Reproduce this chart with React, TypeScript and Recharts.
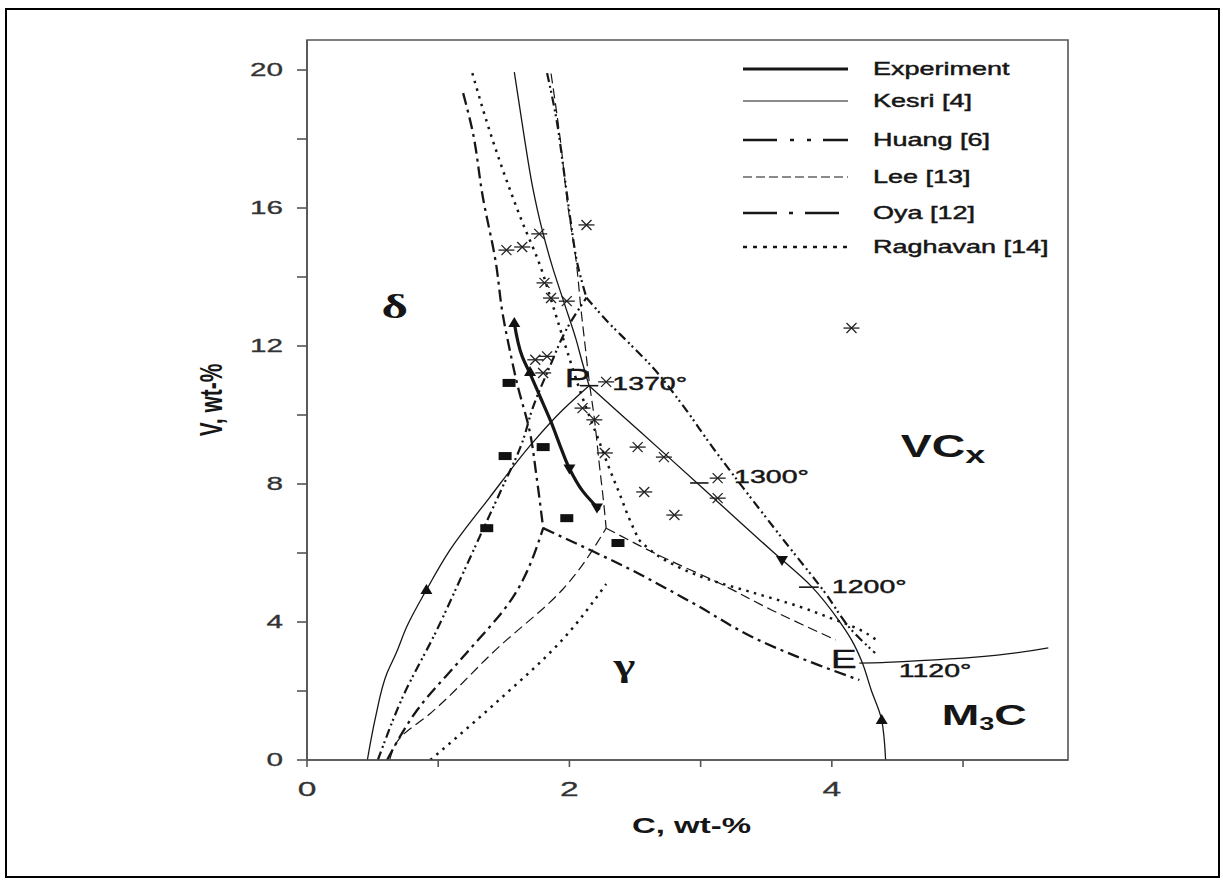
import React from 'react';
import { ComposedChart, Line, Scatter, XAxis, YAxis, Legend, ReferenceArea } from 'recharts';

type Pt = { x: number; y: number };

// ---------- axes ----------
const xDomain: [number, number] = [0, 5.8];
const yDomain: [number, number] = [0, 20.87];
const xTicks = [0, 1, 2, 3, 4, 5];
const xTickLabels = [0, 2, 4];
const yTicks = [0, 2, 4, 6, 8, 10, 12, 14, 16, 18, 20];
const yTickLabels = [0, 4, 8, 12, 16, 20];
const xAxisTitle = 'C, wt-%';
const yAxisTitle = 'V, wt-%';

// ---------- experiment ----------
const experiment: Pt[] = [
  { x: 1.58, y: 12.67 }, { x: 1.64, y: 11.7 }, { x: 1.7, y: 11.2 }, { x: 1.78, y: 10.5 },
  { x: 1.86, y: 9.8 }, { x: 1.93, y: 9.1 }, { x: 2.0, y: 8.45 }, { x: 2.1, y: 7.8 }, { x: 2.23, y: 7.25 },
];
const expDeltaGamma: Pt[] = [
  { x: 0.46, y: 0 }, { x: 0.52, y: 1.2 }, { x: 0.61, y: 2.52 }, { x: 0.68, y: 3.1 }, { x: 0.76, y: 3.86 },
  { x: 0.91, y: 4.93 }, { x: 1.09, y: 6.09 }, { x: 1.39, y: 7.6 }, { x: 1.72, y: 9.2 }, { x: 1.95, y: 10.15 },
  { x: 2.15, y: 10.85 },
];
const expGammaVC: Pt[] = [
  { x: 2.15, y: 10.85 }, { x: 2.38, y: 10.06 }, { x: 2.74, y: 8.83 }, { x: 3.14, y: 7.45 }, { x: 3.54, y: 6.07 },
  { x: 3.85, y: 5.01 }, { x: 4.05, y: 4.06 }, { x: 4.15, y: 3.48 }, { x: 4.23, y: 2.84 }, { x: 4.3, y: 2.03 },
  { x: 4.38, y: 1.16 }, { x: 4.41, y: 0 },
];
const expM3CVC: Pt[] = [{ x: 4.21, y: 2.81 }, { x: 4.41, y: 2.83 }, { x: 5.65, y: 3.25 }];
const tick1370: Pt[] = [{ x: 2.08, y: 10.85 }, { x: 2.22, y: 10.85 }];
const tick1300: Pt[] = [{ x: 2.92, y: 8.03 }, { x: 3.06, y: 8.03 }];
const tick1200: Pt[] = [{ x: 3.75, y: 5.01 }, { x: 3.9, y: 5.01 }];

const arrowsUp: Pt[] = [{ x: 1.58, y: 12.67 }, { x: 1.7, y: 11.25 }, { x: 0.91, y: 4.93 }, { x: 4.38, y: 1.16 }];
const arrowsDown: Pt[] = [{ x: 2.0, y: 8.45 }, { x: 2.21, y: 7.32 }, { x: 3.62, y: 5.8 }];

const asterisks: Pt[] = [
  { x: 2.13, y: 15.51 }, { x: 1.77, y: 15.25 }, { x: 1.64, y: 14.87 }, { x: 1.52, y: 14.78 },
  { x: 1.81, y: 13.83 }, { x: 1.86, y: 13.39 }, { x: 1.98, y: 13.3 }, { x: 1.74, y: 11.6 },
  { x: 1.83, y: 11.7 }, { x: 1.8, y: 11.22 }, { x: 2.28, y: 10.96 }, { x: 2.1, y: 10.2 },
  { x: 2.19, y: 9.86 }, { x: 2.27, y: 8.9 }, { x: 2.52, y: 9.07 }, { x: 2.72, y: 8.78 },
  { x: 2.57, y: 7.77 }, { x: 2.8, y: 7.1 }, { x: 3.13, y: 8.17 }, { x: 3.13, y: 7.59 }, { x: 4.15, y: 12.52 },
];
const squares: Pt[] = [
  { x: 1.54, y: 10.93 }, { x: 1.51, y: 8.81 }, { x: 1.8, y: 9.07 }, { x: 1.37, y: 6.72 },
  { x: 1.98, y: 7.01 }, { x: 2.37, y: 6.29 },
];

// ---------- Kesri [4] ----------
const kesriDeltaVC: Pt[] = [
  { x: 1.58, y: 19.94 }, { x: 1.65, y: 18.2 }, { x: 1.72, y: 16.6 }, { x: 1.79, y: 15.4 }, { x: 1.87, y: 14.3 },
  { x: 1.96, y: 13.25 }, { x: 2.05, y: 12.2 }, { x: 2.1, y: 11.5 }, { x: 2.15, y: 10.85 },
];

// ---------- Huang [6] ----------
const huangDeltaVC: Pt[] = [
  { x: 1.83, y: 19.91 }, { x: 1.9, y: 18.6 }, { x: 1.96, y: 17.0 }, { x: 2.01, y: 15.6 }, { x: 2.06, y: 14.4 }, { x: 2.13, y: 13.4 },
];
const huangGammaVC: Pt[] = [
  { x: 2.13, y: 13.4 }, { x: 2.3, y: 12.67 }, { x: 2.45, y: 12.1 }, { x: 2.63, y: 11.4 }, { x: 2.86, y: 10.3 },
  { x: 3.09, y: 9.07 }, { x: 3.32, y: 7.91 }, { x: 3.65, y: 6.29 }, { x: 3.95, y: 4.84 }, { x: 4.15, y: 3.77 }, { x: 4.33, y: 3.1 },
];
const huangDeltaGamma: Pt[] = [
  { x: 0.54, y: 0 }, { x: 0.73, y: 1.83 }, { x: 0.99, y: 3.77 }, { x: 1.19, y: 5.42 }, { x: 1.34, y: 6.67 },
  { x: 1.49, y: 7.91 }, { x: 1.64, y: 9.2 }, { x: 1.72, y: 10.2 }, { x: 1.85, y: 11.4 }, { x: 1.98, y: 12.5 }, { x: 2.13, y: 13.4 },
];

// ---------- Lee [13] ----------
const leeDeltaVC: Pt[] = [
  { x: 1.86, y: 19.9 }, { x: 1.93, y: 18.0 }, { x: 1.99, y: 16.0 }, { x: 2.05, y: 14.5 }, { x: 2.09, y: 13.0 },
  { x: 2.12, y: 12.0 }, { x: 2.15, y: 11.0 }, { x: 2.19, y: 9.9 }, { x: 2.23, y: 8.5 }, { x: 2.26, y: 7.5 }, { x: 2.28, y: 6.72 },
];
const leeDeltaGamma: Pt[] = [
  { x: 0.63, y: 0 }, { x: 0.7, y: 0.6 }, { x: 0.94, y: 1.35 }, { x: 1.44, y: 3.2 }, { x: 1.95, y: 4.95 }, { x: 2.28, y: 6.72 },
];
const leeGammaVC: Pt[] = [
  { x: 2.28, y: 6.72 }, { x: 2.7, y: 5.9 }, { x: 3.14, y: 5.13 }, { x: 3.54, y: 4.35 }, { x: 4.03, y: 3.48 },
];

// ---------- Oya [12] ----------
const oyaDeltaVC: Pt[] = [
  { x: 1.19, y: 19.33 }, { x: 1.26, y: 18.26 }, { x: 1.34, y: 16.32 }, { x: 1.44, y: 14.4 }, { x: 1.49, y: 12.96 },
  { x: 1.55, y: 11.8 }, { x: 1.6, y: 10.93 }, { x: 1.7, y: 9.48 }, { x: 1.75, y: 8.2 }, { x: 1.8, y: 6.72 },
];
const oyaDeltaGamma: Pt[] = [
  { x: 0.61, y: 0 }, { x: 0.84, y: 1.45 }, { x: 1.19, y: 2.99 }, { x: 1.57, y: 4.72 }, { x: 1.8, y: 6.72 },
];
const oyaGammaVC: Pt[] = [
  { x: 1.8, y: 6.72 }, { x: 2.15, y: 6.1 }, { x: 2.43, y: 5.59 }, { x: 2.94, y: 4.55 }, { x: 3.44, y: 3.48 },
  { x: 3.9, y: 2.75 }, { x: 4.21, y: 2.32 },
];

// ---------- Raghavan [14] ----------
const raghDeltaVC: Pt[] = [
  { x: 1.26, y: 19.91 }, { x: 1.39, y: 18.26 }, { x: 1.52, y: 16.81 }, { x: 1.64, y: 15.6 }, { x: 1.77, y: 14.4 },
  { x: 1.88, y: 13.1 }, { x: 1.97, y: 12.0 }, { x: 2.1, y: 10.5 }, { x: 2.22, y: 9.3 }, { x: 2.3, y: 8.49 },
  { x: 2.38, y: 7.74 }, { x: 2.46, y: 6.96 }, { x: 2.53, y: 6.38 },
];
const raghGammaVC: Pt[] = [
  { x: 2.53, y: 6.38 }, { x: 2.75, y: 5.75 }, { x: 3.05, y: 5.25 }, { x: 3.4, y: 4.85 }, { x: 3.75, y: 4.45 },
  { x: 4.0, y: 4.1 }, { x: 4.2, y: 3.8 }, { x: 4.35, y: 3.45 },
];
const raghDeltaGamma: Pt[] = [
  { x: 0.94, y: 0 }, { x: 1.44, y: 1.66 }, { x: 1.95, y: 3.5 }, { x: 2.28, y: 5.1 },
];

// ---------- text annotations (data coordinates) ----------
const annotations = [
  { x: 0.669, y: 12.81, text: 'δ', kind: 'greek' },
  { x: 2.418, y: 2.43, text: 'γ', kind: 'greek' },
  { x: 1.962, y: 10.81, text: 'P', kind: 'point' },
  { x: 3.992, y: 2.67, text: 'E', kind: 'point' },
  { x: 2.327, y: 10.72, text: '1370°', kind: 'temp' },
  { x: 3.255, y: 8.03, text: '1300°', kind: 'temp' },
  { x: 4.0, y: 4.84, text: '1200°', kind: 'temp' },
  { x: 4.51, y: 2.41, text: '1120°', kind: 'temp' },
  { x: 4.525, y: 8.78, text: 'VC|x', kind: 'phase' },
  { x: 4.837, y: 1.01, text: 'M|3|C', kind: 'phase' },
];

const legendLabels = ['Experiment', 'Kesri [4]', 'Huang [6]', 'Lee [13]', 'Oya [12]', 'Raghavan [14]'];

// ---------- styles ----------
const SANS = "'Liberation Sans', Arial, Helvetica, sans-serif";
const SERIF = "'Liberation Serif', 'Times New Roman', serif";
const SX = 1.5;
const INK = '#161616';
const HALO = 0.45;

const styleExp = { w: 3.2, dash: undefined as string | undefined };
const styleThin = { w: 1.3, dash: undefined as string | undefined };
const styleHuang = { w: 2.2, dash: '9 4 2 3 2 4' };
const styleLee = { w: 1.2, dash: '10 5' };
const styleOya = { w: 2.3, dash: '12 5 3 5' };
const styleRagh = { w: 2.5, dash: '2.5 5.5' };
const styleTick = { w: 1.6, dash: undefined as string | undefined };

const series = [
  { id: 'kesri', data: kesriDeltaVC, s: styleThin },
  { id: 'expDG', data: expDeltaGamma, s: styleThin },
  { id: 'expGV', data: expGammaVC, s: styleThin },
  { id: 'expMV', data: expM3CVC, s: styleThin },
  { id: 'huangDV', data: huangDeltaVC, s: styleHuang },
  { id: 'huangGV', data: huangGammaVC, s: styleHuang },
  { id: 'huangDG', data: huangDeltaGamma, s: styleHuang },
  { id: 'leeDV', data: leeDeltaVC, s: styleLee },
  { id: 'leeDG', data: leeDeltaGamma, s: styleLee },
  { id: 'leeGV', data: leeGammaVC, s: styleLee },
  { id: 'oyaDV', data: oyaDeltaVC, s: styleOya },
  { id: 'oyaDG', data: oyaDeltaGamma, s: styleOya },
  { id: 'oyaGV', data: oyaGammaVC, s: styleOya },
  { id: 'raghDV', data: raghDeltaVC, s: styleRagh },
  { id: 'raghGV', data: raghGammaVC, s: styleRagh },
  { id: 'raghDG', data: raghDeltaGamma, s: styleRagh },
  { id: 't1370', data: tick1370, s: styleTick },
  { id: 't1300', data: tick1300, s: styleTick },
  { id: 't1200', data: tick1200, s: styleTick },
  { id: 'exp', data: experiment, s: styleExp },
];

const legendStyles = [
  { w: 3, dash: undefined as string | undefined },
  { w: 1.2, dash: undefined as string | undefined },
  { w: 2.6, dash: '34 13 4 13 4 12' },
  { w: 1.1, dash: '9 4' },
  { w: 2.6, dash: '34 12 4 12' },
  { w: 2.6, dash: '4 6' },
];
const legendRowY = [19, 51, 90, 127, 163, 197];

// ---------- shapes ----------
const Asterisk = (p: any) => {
  const { cx, cy } = p;
  if (cx == null || cy == null) return <g />;
  return (
    <g stroke="#222" strokeWidth={1.3}>
      <line x1={cx - 8} y1={cy} x2={cx + 8} y2={cy} />
      <line x1={cx - 5} y1={cy - 5} x2={cx + 5} y2={cy + 5} />
      <line x1={cx - 5} y1={cy + 5} x2={cx + 5} y2={cy - 5} />
    </g>
  );
};
const Square = (p: any) => {
  const { cx, cy } = p;
  if (cx == null || cy == null) return <g />;
  return <rect x={cx - 6.5} y={cy - 4} width={13} height={8} fill="#111" />;
};
const TriUp = (p: any) => {
  const { cx, cy } = p;
  if (cx == null || cy == null) return <g />;
  return <polygon points={`${cx},${cy - 6} ${cx - 6},${cy + 4} ${cx + 6},${cy + 4}`} fill="#111" />;
};
const TriDown = (p: any) => {
  const { cx, cy } = p;
  if (cx == null || cy == null) return <g />;
  return <polygon points={`${cx},${cy + 6} ${cx - 6},${cy - 4} ${cx + 6},${cy - 4}`} fill="#111" />;
};

const Annotation = (p: any) => {
  const { cx, cy, payload } = p;
  if (cx == null || cy == null || !payload) return <g />;
  const t: string = payload.text;
  const k: string = payload.kind;
  if (k === 'greek') {
    return (
      <text transform={`translate(${cx},${cy}) scale(${SX},1)`} textAnchor="middle" fontFamily={SERIF}
        fontWeight="bold" fontSize={t === 'δ' ? 34 : 31} fill={INK}>{t}</text>
    );
  }
  if (k === 'point') {
    return (
      <text transform={`translate(${cx},${cy}) scale(${SX},1)`} textAnchor="start" fontFamily={SANS}
        fontSize={26} fill={INK} stroke={INK} strokeWidth={0.3}>{t}</text>
    );
  }
  if (k === 'temp') {
    return (
      <text transform={`translate(${cx},${cy}) scale(${SX},1)`} textAnchor="start" fontFamily={SANS}
        fontSize={19} fill={INK} stroke={INK} strokeWidth={HALO}>{t}</text>
    );
  }
  const parts = t.split('|');
  if (parts.length === 2) {
    return (
      <text transform={`translate(${cx},${cy}) scale(${SX},1)`} textAnchor="start" fontFamily={SANS}
        fontWeight="bold" fontSize={31} fill={INK}>
        {parts[0]}<tspan fontSize={24} dy={6}>{parts[1]}</tspan>
      </text>
    );
  }
  return (
    <text transform={`translate(${cx},${cy}) scale(${SX},1)`} textAnchor="start" fontFamily={SANS}
      fontWeight="bold" fontSize={30} fill={INK}>
      {parts[0]}<tspan fontSize={18} dy={5}>{parts[1]}</tspan><tspan dy={-5}>{parts[2]}</tspan>
    </text>
  );
};

const XTick = (p: any) => {
  const { x, y, payload } = p;
  if (!xTickLabels.includes(payload.value)) return <g />;
  return (
    <text transform={`translate(${x},${y}) scale(1.6,1)`} textAnchor="middle" dy="0.71em"
      fontFamily={SANS} fontSize={21} fill="#333" stroke="#333" strokeWidth={0.3}>{payload.value}</text>
  );
};
const YTick = (p: any) => {
  const { x, y, payload } = p;
  if (!yTickLabels.includes(payload.value)) return <g />;
  return (
    <text transform={`translate(${x},${y}) scale(1.65,1)`} textAnchor="end" dy="0.355em"
      fontFamily={SANS} fontSize={18} fill="#333" stroke="#333" strokeWidth={0.3}>{payload.value}</text>
  );
};

const YTitle = (p: any) => {
  const vb = p.viewBox || { x: 247, y: 40, width: 60, height: 720 };
  return (
    <text transform={`translate(${vb.x - 36},${vb.y + vb.height / 2}) scale(${SX},1) rotate(-90)`}
      textAnchor="middle" dy="0.36em" fontFamily={SANS} fontWeight="bold" fontSize={21} fill={INK}>{yAxisTitle}</text>
  );
};
const XTitle = (p: any) => {
  const vb = p.viewBox || { x: 307, y: 760, width: 761, height: 60 };
  return (
    <text transform={`translate(${vb.x + vb.width / 2 + 4},${vb.y + 73}) scale(${SX},1)`}
      textAnchor="middle" fontFamily={SANS} fontWeight="bold" fontSize={22} fill={INK}>{xAxisTitle}</text>
  );
};

const LegendBox = () => (
  <svg width={330} height={215} style={{ display: 'block' }}>
    {legendLabels.map((label, i) => (
      <g key={label}>
        <line x1={13} x2={118} y1={legendRowY[i]} y2={legendRowY[i]} stroke={INK}
          strokeWidth={legendStyles[i].w} strokeDasharray={legendStyles[i].dash} />
        <text transform={`translate(143,${legendRowY[i]}) scale(${SX},1)`} dy="0.36em" fontFamily={SANS}
          fontSize={18} fill={INK} stroke={INK} strokeWidth={HALO}>{label}</text>
      </g>
    ))}
  </svg>
);

export default function App() {
  return (
    <div style={{ position: 'absolute', left: 0, top: 0, width: 1223, height: 881, background: '#fff' }}>
      <div style={{ position: 'absolute', left: 5, top: 8, width: 1211, height: 866, border: '2px solid #000' }} />
      <div style={{ position: 'absolute', left: 0, top: 0 }}>
        <ComposedChart width={1223} height={881} margin={{ top: 40, right: 155, bottom: 61, left: 247 }}>
          <XAxis type="number" dataKey="x" domain={xDomain} ticks={xTicks} allowDataOverflow
            tick={<XTick />} tickSize={7} tickMargin={14} height={60}
            axisLine={{ stroke: '#555', strokeWidth: 1.6 }} tickLine={{ stroke: '#555', strokeWidth: 1.6 }}
            label={{ content: <XTitle /> } as any} />
          <YAxis type="number" dataKey="y" domain={yDomain} ticks={yTicks} allowDataOverflow
            tick={<YTick />} tickSize={10} tickMargin={14} width={60}
            axisLine={{ stroke: '#555', strokeWidth: 1.6 }} tickLine={{ stroke: '#555', strokeWidth: 1.6 }}
            label={{ content: <YTitle /> } as any} />
          <ReferenceArea x1={xDomain[0]} x2={xDomain[1]} y1={yDomain[0]} y2={yDomain[1]}
            fill="none" fillOpacity={0} stroke="#555" strokeWidth={1.6} ifOverflow="visible" />
          {series.map((sr) => (
            <Line key={sr.id} data={sr.data} dataKey="y" type="monotoneY" stroke={INK}
              strokeWidth={sr.s.w} strokeDasharray={sr.s.dash} dot={false} activeDot={false}
              isAnimationActive={false} legendType="none" />
          ))}
          <Scatter data={asterisks} dataKey="y" shape={Asterisk} isAnimationActive={false} legendType="none" />
          <Scatter data={squares} dataKey="y" shape={Square} isAnimationActive={false} legendType="none" />
          <Scatter data={arrowsUp} dataKey="y" shape={TriUp} isAnimationActive={false} legendType="none" />
          <Scatter data={arrowsDown} dataKey="y" shape={TriDown} isAnimationActive={false} legendType="none" />
          <Scatter data={annotations} dataKey="y" shape={Annotation} isAnimationActive={false} legendType="none" />
          <Legend layout="vertical" align="center" verticalAlign="middle" content={<LegendBox />}
            wrapperStyle={{ left: 730, top: 50, width: 330, height: 215 }} />
        </ComposedChart>
      </div>
    </div>
  );
}
